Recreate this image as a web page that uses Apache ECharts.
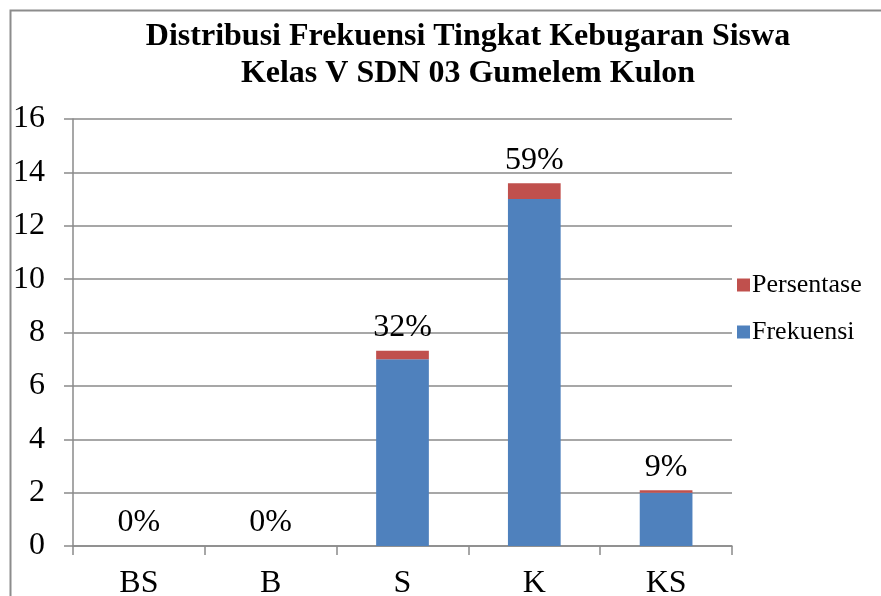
<!DOCTYPE html>
<html>
<head>
<meta charset="utf-8">
<script src="https://cdn.jsdelivr.net/npm/echarts@6/dist/echarts.min.js"></script>
<style>
  html, body { margin: 0; padding: 0; background: #fff; }
  #chart { width: 881px; height: 596px; }
</style>
</head>
<body>
<div id="chart"></div>
<script>
// data
const categories = ["BS", "B", "S", "K", "KS"];
const frekuensi = [0, 0, 7, 13, 2];
const persentase = [0, 0, 0.32, 0.59, 0.09];
const yTicks = { min: 0, max: 16, interval: 2 };

const font = "'Liberation Serif', 'DejaVu Serif', serif";
const gridColor = "#8a8a8a";

const chart = echarts.init(document.getElementById("chart"));

const option = {
  backgroundColor: "#fff",
  animation: false,
  title: {
    text: "Distribusi Frekuensi Tingkat Kebugaran Siswa\nKelas V SDN 03 Gumelem Kulon",
    left: 463,
    textAlign: "center",
    top: 13,
    textStyle: {
      fontFamily: font,
      fontWeight: "bold",
      fontSize: 32,
      lineHeight: 37,
      color: "#000"
    }
  },
  graphic: [
    {
      type: "rect",
      shape: { x: 10.5, y: 10.5, width: 1000, height: 1000 },
      style: { fill: "none", stroke: "#8c8c8c", lineWidth: 2 },
      silent: true
    }
  ],
  legend: {
    orient: "vertical",
    left: 732,
    top: 267,
    itemWidth: 13,
    itemHeight: 13,
    itemGap: 21,
    icon: "rect",
    data: ["Persentase", "Frekuensi"],
    textStyle: { fontFamily: font, fontSize: 26, color: "#000", padding: [0, 0, 0, -3] }
  },
  grid: { left: 73, right: 149, top: 119, bottom: 50, outerBoundsMode: "none", containLabel: false },
  xAxis: {
    type: "category",
    data: categories,
    axisLine: { lineStyle: { color: gridColor, width: 1.5 } },
    axisTick: { show: true, length: 9, inside: false, lineStyle: { color: gridColor, width: 1.5 } },
    axisLabel: { fontFamily: font, fontSize: 32, color: "#000", margin: 22 }
  },
  yAxis: {
    type: "value",
    min: yTicks.min,
    max: yTicks.max,
    interval: yTicks.interval,
    axisLine: { show: true, lineStyle: { color: gridColor, width: 1.5 } },
    axisTick: { show: true, length: 9, lineStyle: { color: gridColor, width: 1.5 } },
    axisLabel: { fontFamily: font, fontSize: 32, color: "#000", margin: 28 },
    splitLine: { show: true, lineStyle: { color: gridColor, width: 1.5 } }
  },
  series: [
    {
      name: "Frekuensi",
      type: "bar",
      stack: "total",
      data: frekuensi,
      barCategoryGap: "60%",
      itemStyle: { color: "#4f81bd" }
    },
    {
      name: "Persentase",
      type: "bar",
      stack: "total",
      data: persentase,
      itemStyle: { color: "#c0504d" },
      label: {
        show: true,
        position: "top",
        distance: 7,
        fontFamily: font,
        fontSize: 32,
        color: "#000",
        formatter: p => Math.round(p.value * 100) + "%"
      }
    }
  ]
};

chart.setOption(option);
</script>
</body>
</html>
